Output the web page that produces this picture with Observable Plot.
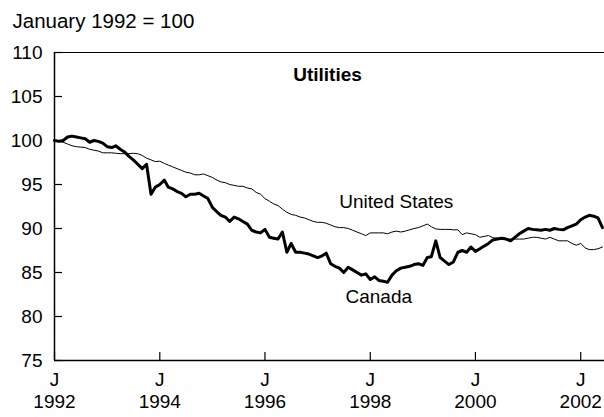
<!DOCTYPE html>
<html>
<head>
<meta charset="utf-8">
<script src="https://cdn.jsdelivr.net/npm/d3@7"></script>
<script src="https://cdn.jsdelivr.net/npm/@observablehq/plot@0.6"></script>
<style>
  html, body { margin: 0; padding: 0; background: #fff; }
  svg { display: block; }
</style>
</head>
<body>
<div id="chart"></div>
<script>
// Monthly index values, January 1992 = 100, Jan 1992 .. Jun 2002
const canada = [
  100.0, 99.9, 100.0, 100.4, 100.5, 100.4, 100.3, 100.2, 99.8, 100.0, 99.9, 99.7,
  99.3, 99.2, 99.4, 99.0, 98.7, 98.2, 97.8, 97.3, 96.8, 97.3, 93.9, 94.7,
  95.0, 95.5, 94.7, 94.5, 94.2, 94.0, 93.6, 93.9, 93.9, 94.0, 93.7, 93.4,
  92.4, 91.9, 91.5, 91.3, 90.8, 91.3, 91.1, 90.8, 90.5, 89.8, 89.6, 89.5,
  89.9, 89.0, 88.9, 88.8, 89.6, 87.3, 88.3, 87.3, 87.3, 87.2, 87.1, 86.9,
  86.7, 86.9, 87.2, 86.0, 85.7, 85.5, 85.0, 85.6, 85.3, 85.0, 84.7, 84.85,
  84.2, 84.5, 84.1, 84.0, 83.9, 84.7, 85.2, 85.5, 85.6, 85.7, 85.9, 86.0,
  85.8, 86.7, 86.8, 88.6, 86.7, 86.3, 85.9, 86.2, 87.3, 87.5, 87.3, 87.9,
  87.4, 87.7, 88.0, 88.3, 88.7, 88.8, 88.9, 88.8, 88.6, 89.0, 89.4, 89.7,
  90.0, 89.9, 89.85, 89.8, 89.9, 89.8, 90.0, 89.9, 89.85, 90.1, 90.3, 90.5,
  91.0, 91.3, 91.5, 91.4, 91.2, 90.1
];
const unitedStates = [
  100.0, 99.9, 99.8, 99.6, 99.4, 99.3, 99.25, 99.2, 99.0, 98.9, 98.8, 98.6,
  98.6, 98.6, 98.55, 98.5, 98.5, 98.5, 98.55, 98.5, 98.3, 98.0, 97.8, 97.6,
  97.65, 97.4, 97.2, 97.0, 96.8, 96.6, 96.4, 96.3, 96.1, 96.1, 96.2, 96.0,
  95.8, 95.5, 95.3, 95.2, 95.0, 94.9, 94.8, 94.8, 94.6, 94.5, 94.1, 93.9,
  93.4, 93.1, 92.8, 92.6, 92.2, 91.85, 91.6, 91.5, 91.3, 91.2, 91.0, 90.8,
  90.7, 90.7, 90.6, 90.4, 90.2, 90.1, 90.1, 90.0, 89.8, 89.6, 89.4, 89.2,
  89.5, 89.5, 89.5, 89.5, 89.4, 89.6, 89.7, 89.6, 89.7, 89.85, 90.0, 90.1,
  90.3, 90.5, 90.2, 89.95, 89.9, 89.9, 89.9, 89.85, 89.85, 89.3, 89.5, 89.4,
  89.3, 89.0, 89.1, 89.2, 88.95, 88.9, 88.8, 88.8, 88.8, 88.8, 88.8, 88.8,
  88.9, 89.0, 89.0, 88.9, 88.8, 89.0, 88.8, 88.6, 88.6, 88.6, 88.3, 88.1,
  88.3, 87.8, 87.6, 87.6, 87.7, 87.9
];
const yTicks = [75, 80, 85, 90, 95, 100, 105, 110];
const xTickYears = [1992, 1994, 1996, 1998, 2000, 2002];
const seriesNames = ["Canada", "United States"];
const chartTitle = "Utilities";
const unitNote = "January 1992 = 100";

const start = new Date(Date.UTC(1992, 0, 1));
const monthOf = i => d3.utcMonth.offset(start, i);
const rowsCanada = canada.map((v, i) => ({date: monthOf(i), value: v, series: seriesNames[0]}));
const rowsUS = unitedStates.map((v, i) => ({date: monthOf(i), value: v, series: seriesNames[1]}));
const xTicks = xTickYears.map(y => new Date(Date.UTC(y, 0, 1)));

const chart = Plot.plot({
  width: 604,
  height: 417,
  marginLeft: 54,
  marginRight: 0,
  marginTop: 52,
  marginBottom: 57,
  style: {fontFamily: "'Liberation Sans', Arial, sans-serif", fontSize: "19px", color: "#000", background: "#fff"},
  x: {type: "utc", domain: [start, new Date(Date.UTC(2002, 5, 15))]},
  y: {domain: [75, 110]},
  marks: [
    Plot.axisY({ticks: yTicks, tickSize: 8, dx: 8, fill: "none", label: null, strokeWidth: 1.2}),
    Plot.axisY({ticks: yTicks, tickSize: 0, tickPadding: 12, label: null, tickFormat: d => String(d)}),
    Plot.axisX({ticks: xTicks, tickSize: 8, dy: -8, fill: "none", label: null, strokeWidth: 1.2}),
    Plot.axisX({ticks: xTicks, tickSize: 0, tickPadding: 9, label: null, lineHeight: 1.2,
      tickFormat: d => `J\n${d.getUTCFullYear()}`}),
    Plot.ruleY([110], {stroke: "#000", strokeWidth: 1.2}),
    Plot.ruleY([75], {stroke: "#000", strokeWidth: 1.5}),
    Plot.ruleX([start], {stroke: "#000", strokeWidth: 1.5}),
    Plot.line(rowsUS, {x: "date", y: "value", stroke: "#000", strokeWidth: 1, strokeLinejoin: "round"}),
    Plot.line(rowsCanada, {x: "date", y: "value", stroke: "#000", strokeWidth: 3, strokeLinejoin: "round"}),
    Plot.text([seriesNames[1]], {x: () => new Date(Date.UTC(1998, 6, 1)), y: () => 92.97, text: d => d,
      textAnchor: "middle", lineAnchor: "middle", fill: "#000"}),
    Plot.text([seriesNames[0]], {x: () => new Date(Date.UTC(1998, 2, 1)), y: () => 82.17, text: d => d,
      textAnchor: "middle", lineAnchor: "middle", fill: "#000"}),
    Plot.text([chartTitle], {frameAnchor: "top", dx: -2, dy: 14.5, lineAnchor: "top", fontWeight: "bold", fill: "#000"}),
    Plot.text([unitNote], {frameAnchor: "top-left", dx: -42, dy: -39, lineAnchor: "top", textAnchor: "start", fill: "#000", fontSize: 20.5})
  ]
});
document.getElementById("chart").appendChild(chart);
</script>
</body>
</html>
